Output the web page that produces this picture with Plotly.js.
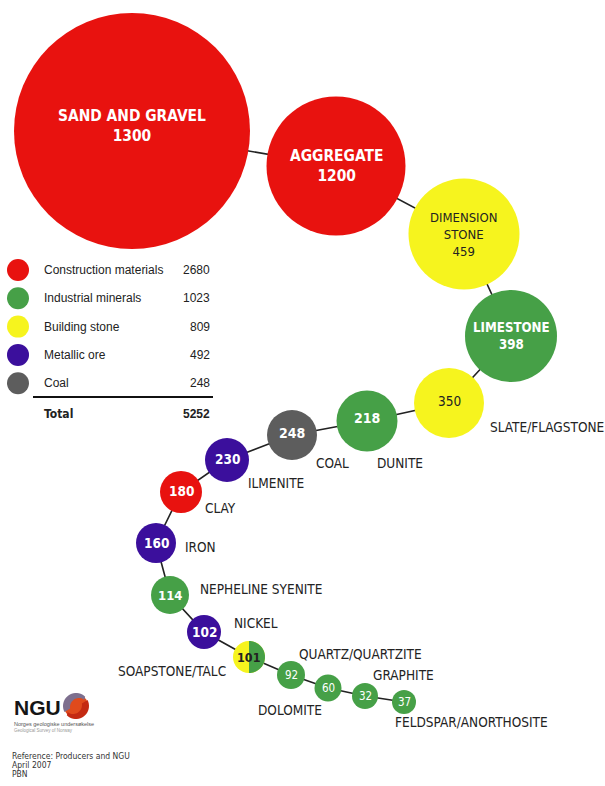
<!DOCTYPE html>
<html><head><meta charset="utf-8">
<script src="https://cdn.plot.ly/plotly-3.0.1.min.js"></script>
<style>html,body{margin:0;padding:0;background:#fff;} #chart{width:605px;height:786px;}</style>
</head><body><div id="chart"></div>
<script>
// ---------- DATA ----------
const minerals = ['SAND AND GRAVEL','AGGREGATE','DIMENSION STONE','LIMESTONE','SLATE/FLAGSTONE','DUNITE','COAL','ILMENITE','CLAY','IRON','NEPHELINE SYENITE','NICKEL','SOAPSTONE/TALC','QUARTZ/QUARTZITE','DOLOMITE','GRAPHITE','FELDSPAR/ANORTHOSITE'];
const values = [1300,1200,459,398,350,218,248,230,180,160,114,102,101,92,60,32,37];
const groups = ['construction','construction','building','industrial','building','industrial','coal','metallic','construction','metallic','industrial','metallic','building+industrial','industrial','industrial','industrial','industrial'];
const legendCategories = ['Construction materials','Industrial minerals','Building stone','Metallic ore','Coal'];
const legendKeys = ['construction','industrial','building','metallic','coal'];
const legendTotals = [2680,1023,809,492,248];
const totalLabel = 'Total';
const totalValue = 5252;
const footnotes = ['Reference: Producers and NGU','April 2007','PBN'];

// ---------- LAYOUT (infographic placement, pixel space) ----------
const bubbleX = [132,336,464,511,449,367,292,227,181,156,170,204,249,291,328,365,404];
const bubbleY = [131,166,234,336,403,421,435,460,492,543,595,632,657,675,688,696,702];
const bubbleD = [236,139,111,92,70,61,50,44,42,40,38,34,32,28,27,26,24];
const nameInside = [true,true,true,true,false,false,false,false,false,false,false,false,false,false,false,false,false];
const textShift = [5,0,0,0,2,3,2,1,1,0,0,0,0,0,0,0,0];
const labelX = [0,0,0,0,488,400,332,276,220,200,198,256,228,297,290,403,393];
const labelY = [0,0,0,0,427,463,463,483,508,547,589,623,671,654,710,675,722];
const labelAnchor = ['','','','','left','center','center','center','center','center','left','center','right','left','center','center','left'];
const innerSize = [15.4,15.4,13,13.2,13.5,14,14,13.5,13.5,13.5,13,13.5,12.5,11.5,11.5,11.5,11.5];
const innerBold = [true,true,false,true,false,true,true,true,true,true,true,true,true,false,false,false,false];

const colorMap = {construction:'#e8120f', industrial:'#46a047', building:'#f6f41e', metallic:'#3b0f9c', coal:'#5d5d5d'};
const FN = '"DejaVu Sans Condensed", "Liberation Sans Narrow", sans-serif';
const FL = '"Liberation Sans", Arial, sans-serif';

const markerColors = groups.map(g => colorMap[g.split('+')[0]]);
const textColors = groups.map(g => g.split('+')[0] === 'building' ? '#222222' : '#ffffff');

const traces = [];
traces.push({x: bubbleX, y: bubbleY, mode: 'lines', line: {color: '#222', width: 1.6}, hoverinfo: 'skip', showlegend: false});
traces.push({x: bubbleX, y: bubbleY, mode: 'markers', marker: {size: bubbleD, color: markerColors, line: {width: 0}, opacity: 1}, hoverinfo: 'skip', showlegend: false});

const legY0 = 270, legStep = 28.3;
const legYs = legendCategories.map((c, i) => legY0 + i * legStep);
traces.push({x: legendCategories.map(() => 18), y: legYs, mode: 'markers', marker: {size: 22, color: legendKeys.map(k => colorMap[k])}, hoverinfo: 'skip', showlegend: false});

const annotations = [];
const shapes = [];

minerals.forEach((m, i) => {
  let name = m === 'DIMENSION STONE' ? 'DIMENSION<br>STONE' : m;
  let txt = nameInside[i] ? name + '<br>' + values[i] : String(values[i]);
  if (innerBold[i]) txt = '<b>' + txt.split('<br>').join('</b><br><b>') + '</b>';
  annotations.push({x: bubbleX[i], y: bubbleY[i], xref: 'x', yref: 'y', text: txt, showarrow: false, yshift: textShift[i],
    font: {family: FN, size: innerSize[i], color: textColors[i]}, xanchor: 'center', yanchor: 'middle', align: 'center'});
  if (!nameInside[i]) {
    annotations.push({x: labelX[i], y: labelY[i], xref: 'x', yref: 'y', text: m, showarrow: false,
      font: {family: FN, size: 13.5, color: '#232323'}, xanchor: labelAnchor[i], yanchor: 'middle'});
  }
});

groups.forEach((g, i) => {
  const parts = g.split('+');
  if (parts.length > 1) {
    const r = bubbleD[i] / 2, cx = bubbleX[i], cy = bubbleY[i];
    let p = 'M ' + cx + ' ' + (cy - r);
    for (let k = 1; k <= 36; k++) {
      const a = -Math.PI / 2 + Math.PI * k / 36;
      p += ' L ' + (cx + r * Math.cos(a)).toFixed(2) + ' ' + (cy + r * Math.sin(a)).toFixed(2);
    }
    p += ' Z';
    shapes.push({type: 'path', xref: 'x', yref: 'y', path: p, fillcolor: colorMap[parts[1]], line: {width: 0}, layer: 'above'});
  }
});

legendCategories.forEach((c, i) => {
  annotations.push({x: 42, y: legYs[i], xref: 'x', yref: 'y', text: c, showarrow: false, xanchor: 'left', yanchor: 'middle',
    font: {family: FL, size: 12, color: '#222'}});
  annotations.push({x: 212, y: legYs[i], xref: 'x', yref: 'y', text: String(legendTotals[i]), showarrow: false, xanchor: 'right', yanchor: 'middle',
    font: {family: FL, size: 12, color: '#222'}});
});
shapes.push({type: 'line', xref: 'x', yref: 'y', x0: 33, x1: 213, y0: 397, y1: 397, line: {color: '#111', width: 2}});
annotations.push({x: 42, y: 414, xref: 'x', yref: 'y', text: '<b>' + totalLabel + '</b>', showarrow: false, xanchor: 'left', yanchor: 'middle', font: {family: FN, size: 12, color: '#222'}});
annotations.push({x: 212, y: 414, xref: 'x', yref: 'y', text: '<b>' + totalValue + '</b>', showarrow: false, xanchor: 'right', yanchor: 'middle', font: {family: FL, size: 12, color: '#222'}});

annotations.push({x: 12, y: 707, xref: 'x', yref: 'y', text: '<b>NGU</b>', showarrow: false, xanchor: 'left', yanchor: 'middle', font: {family: FL, size: 21, color: '#151515'}});
shapes.push({type: 'circle', xref: 'x', yref: 'y', x0: 64, x1: 88, y0: 694, y1: 718, fillcolor: '#e04a1c', line: {width: 0}});
(function(){
  const cx = 76, cy = 706, r1 = 13, r2 = 9;
  let p = '';
  for (let k = 0; k <= 20; k++) { const a = Math.PI * (0.85 + 0.9 * k / 20); p += (k ? ' L ' : 'M ') + (cx + r1 * Math.cos(a)).toFixed(2) + ' ' + (cy + r1 * Math.sin(a)).toFixed(2); }
  for (let k = 20; k >= 0; k--) { const a = Math.PI * (0.95 + 0.75 * k / 20); p += ' L ' + (cx + 3 + r2 * Math.cos(a)).toFixed(2) + ' ' + (cy + 1 + r2 * Math.sin(a)).toFixed(2); }
  shapes.push({type: 'path', xref: 'x', yref: 'y', path: p + ' Z', fillcolor: '#7d6f8e', line: {width: 0}});
  let q = '';
  for (let k = 0; k <= 20; k++) { const a = Math.PI * (-0.15 + 0.9 * k / 20); q += (k ? ' L ' : 'M ') + (cx + r1 * Math.cos(a)).toFixed(2) + ' ' + (cy + r1 * Math.sin(a)).toFixed(2); }
  for (let k = 20; k >= 0; k--) { const a = Math.PI * (-0.05 + 0.75 * k / 20); q += ' L ' + (cx - 3 + r2 * Math.cos(a)).toFixed(2) + ' ' + (cy - 1 + r2 * Math.sin(a)).toFixed(2); }
  shapes.push({type: 'path', xref: 'x', yref: 'y', path: q + ' Z', fillcolor: '#c42a12', line: {width: 0}});
})();
annotations.push({x: 12, y: 724, xref: 'x', yref: 'y', text: 'Norges geologiske undersøkelse', showarrow: false, xanchor: 'left', yanchor: 'middle', font: {family: FL, size: 5.5, color: '#555'}});
annotations.push({x: 12, y: 730, xref: 'x', yref: 'y', text: 'Geological Survey of Norway', showarrow: false, xanchor: 'left', yanchor: 'middle', font: {family: FL, size: 4.5, color: '#999'}});

footnotes.forEach((f, i) => {
  annotations.push({x: 10, y: 756 + i * 9, xref: 'x', yref: 'y', text: f, showarrow: false, xanchor: 'left', yanchor: 'middle', font: {family: FN, size: 8.5, color: '#333'}});
});

const layout = {
  width: 605, height: 786,
  margin: {l: 0, r: 0, t: 0, b: 0, pad: 0},
  paper_bgcolor: '#ffffff', plot_bgcolor: '#ffffff',
  xaxis: {range: [0, 605], visible: false, fixedrange: true},
  yaxis: {range: [786, 0], visible: false, fixedrange: true},
  showlegend: false, hovermode: false,
  annotations: annotations, shapes: shapes
};
Plotly.newPlot('chart', traces, layout, {staticPlot: true, displayModeBar: false});
</script>
</body></html>
